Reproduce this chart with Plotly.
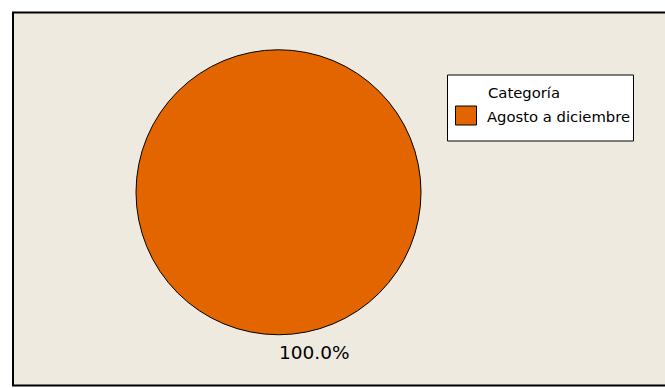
import plotly.graph_objects as go

# Data
categories = ["Agosto a diciembre"]
values = [100]
legend_title = "Categoría"

W, H = 665, 388
BG = "#EEEAE0"
ORANGE = "#E36500"
FONT = "DejaVu Sans"


def px(x):
    return x / W


def py(y):
    return 1 - y / H


total = sum(values)
pct_labels = [f"{100 * v / total:.1f}%" for v in values]

fig = go.Figure()
fig.add_trace(go.Pie(
    labels=categories,
    values=values,
    marker=dict(colors=[ORANGE], line=dict(color="black", width=1)),
    textinfo="none",
    hoverinfo="label+percent",
    sort=False,
    domain=dict(x=[px(136), px(421)], y=[py(335), py(49.5)]),
    showlegend=False,
))

shapes = [
    # outer frame
    dict(type="rect", xref="paper", yref="paper", layer="below",
         x0=px(13), x1=px(W + 10), y0=py(385.5), y1=py(12.5),
         fillcolor=BG, line=dict(color="black", width=2)),
    # legend box
    dict(type="rect", xref="paper", yref="paper",
         x0=px(447.5), x1=px(633.5), y0=py(141), y1=py(75),
         fillcolor="white", line=dict(color="black", width=1)),
    # legend swatch
    dict(type="rect", xref="paper", yref="paper",
         x0=px(455.5), x1=px(476.5), y0=py(125), y1=py(106),
         fillcolor=ORANGE, line=dict(color="black", width=1)),
]

annotations = [
    dict(text=legend_title, xref="paper", yref="paper", x=px(486), y=py(92),
         xanchor="left", yanchor="middle", showarrow=False,
         font=dict(family=FONT, size=14.8, color="black")),
    dict(text=categories[0], xref="paper", yref="paper", x=px(485), y=py(116),
         xanchor="left", yanchor="middle", showarrow=False,
         font=dict(family=FONT, size=14.8, color="black")),
    dict(text=pct_labels[0], xref="paper", yref="paper", x=px(314.5), y=py(352),
         xanchor="center", yanchor="middle", showarrow=False,
         font=dict(family=FONT, size=18.5, color="black")),
]

fig.update_layout(
    width=W, height=H,
    margin=dict(l=0, r=0, t=0, b=0),
    paper_bgcolor="white",
    plot_bgcolor="white",
    shapes=shapes,
    annotations=annotations,
    showlegend=False,
)

fig.write_html("out.html")
